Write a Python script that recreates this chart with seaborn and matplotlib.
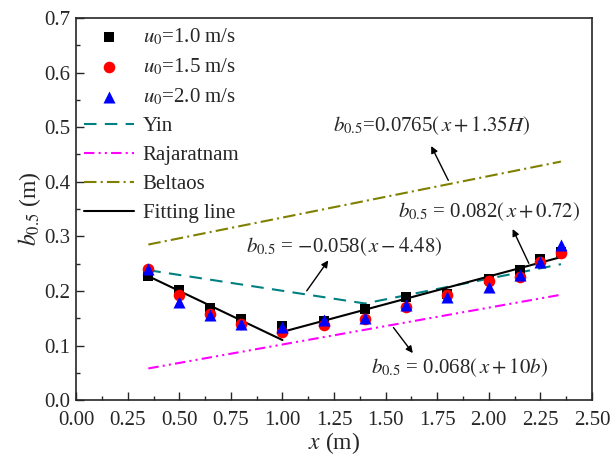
"""
Half-width b0.5 vs distance x
"""

import numpy as np
import pandas as pd
import matplotlib
matplotlib.use("Agg")
import matplotlib.pyplot as plt
import seaborn as sns

# measured points
x_pts = [0.35, 0.5, 0.65, 0.8, 1.0, 1.2, 1.4, 1.6, 1.8, 2.0, 2.15, 2.25, 2.35]
b_u10 = [0.228, 0.201, 0.169, 0.149, 0.135, 0.145, 0.166, 0.189, 0.195, 0.222, 0.238, 0.259, 0.272]
b_u15 = [0.240, 0.192, 0.158, 0.140, 0.125, 0.137, 0.149, 0.170, 0.192, 0.218, 0.226, 0.253, 0.269]
b_u20 = [0.240, 0.180, 0.155, 0.139, 0.134, 0.146, 0.151, 0.175, 0.188, 0.208, 0.229, 0.253, 0.285]

# reference curves
yin_x = [0.35, 1.4, 2.35]
yin_b = [0.238, 0.177, 0.249]
raj_x = [0.35, 2.35]
raj_b = [0.058, 0.193]
bel_x = [0.35, 2.35]
bel_b = [0.285, 0.437]

# fitting line (two branches)
fit1_x = [0.35, 1.0]
fit1_b = [0.227, 0.110]
fit2_x = [1.0, 2.35]
fit2_b = [0.125, 0.262]

sns.set_style("ticks")
plt.rcParams["font.family"] = ["Liberation Serif", "DejaVu Serif"]
plt.rcParams["mathtext.fontset"] = "stix"

fig, ax = plt.subplots(figsize=(6.14, 4.62), dpi=100)
fig.subplots_adjust(left=0.124, right=0.964, bottom=0.134, top=0.961)

pts = pd.DataFrame({"x": x_pts, "u10": b_u10, "u15": b_u15, "u20": b_u20})
sns.scatterplot(data=pts, x="x", y="u10", marker="s", color="black", s=60,
                linewidth=0, label=r"$u_{\mathit{0}}$=1.0 m/s", ax=ax, zorder=3)
sns.scatterplot(data=pts, x="x", y="u15", marker="o", color="red", s=70,
                linewidth=0, label=r"$u_{\mathit{0}}$=1.5 m/s", ax=ax, zorder=4)
sns.scatterplot(data=pts, x="x", y="u20", marker="^", color="blue", s=75,
                linewidth=0, label=r"$u_{\mathit{0}}$=2.0 m/s", ax=ax, zorder=5)

sns.lineplot(x=yin_x, y=yin_b, color="#008080", lw=1.5, ax=ax, label="Yin",
             linestyle=(0, (6, 4)))
sns.lineplot(x=raj_x, y=raj_b, color="#FF00FF", lw=1.5, ax=ax, label="Rajaratnam",
             linestyle=(0, (5, 2, 1, 2, 1, 2)))
sns.lineplot(x=bel_x, y=bel_b, color="#808000", lw=1.5, ax=ax, label="Beltaos",
             linestyle=(0, (6, 2, 1, 2)))
sns.lineplot(x=fit1_x, y=fit1_b, color="black", lw=1.5, ax=ax, label="Fitting line")
sns.lineplot(x=fit2_x, y=fit2_b, color="black", lw=1.5, ax=ax)

arrow = dict(arrowstyle="-|>", color="black", lw=1, mutation_scale=10)
fs = 15
ax.annotate("", xy=(1.715, 0.47), xytext=(1.81, 0.398), arrowprops=arrow)
ax.text(1.725, 0.503, r"$b_{0.5}$=0.0765$\left(\,x+1.35H\right)$", fontsize=fs, ha="center", va="center")
ax.annotate("", xy=(2.11, 0.318), xytext=(2.2, 0.246), arrowprops=arrow)
ax.text(2.0, 0.345, r"$b_{0.5}$ = 0.082$\left(\,x+0.72\right)$", fontsize=fs, ha="center", va="center")
ax.annotate("", xy=(1.23, 0.26), xytext=(1.11, 0.196), arrowprops=arrow)
ax.text(1.30, 0.282, r"$b_{0.5}$ = $-$0.058$\left(\,x-4.48\right)$", fontsize=fs, ha="center", va="center")
ax.annotate("", xy=(1.64, 0.082), xytext=(1.53, 0.137), arrowprops=arrow)
ax.text(1.86, 0.059, r"$b_{0.5}$ = 0.068$\left(\,x+10b\right)$", fontsize=fs, ha="center", va="center")

ax.set_xlim(0, 2.5)
ax.set_ylim(0, 0.7)
ax.set_xticks(np.arange(0, 2.51, 0.25))
ax.set_yticks(np.arange(0, 0.71, 0.1))
ax.set_xticks(np.arange(0.125, 2.5, 0.25), minor=True)
ax.set_yticks(np.arange(0.05, 0.7, 0.1), minor=True)
ax.xaxis.set_major_formatter(matplotlib.ticker.FormatStrFormatter("%.2f"))
ax.yaxis.set_major_formatter(matplotlib.ticker.FormatStrFormatter("%.1f"))
ax.tick_params(which="both", direction="in", labelsize=15, width=1)
ax.tick_params(which="major", length=6)
ax.tick_params(which="minor", length=3)
ax.tick_params(axis="x", pad=8)
ax.tick_params(axis="y", pad=4)
for s in ax.spines.values():
    s.set_linewidth(1.2)
    s.set_visible(True)

ax.set_xlabel(r"$x$ (m)", fontsize=17, labelpad=0)
ax.set_ylabel(r"$b_{0.5}$ (m)", fontsize=17, labelpad=1)

ax.legend(loc="upper left", frameon=False, fontsize=15, handlelength=2.4,
          labelspacing=0.45, borderaxespad=0.0, handletextpad=0.4)

fig.savefig("out.png", dpi=100)
